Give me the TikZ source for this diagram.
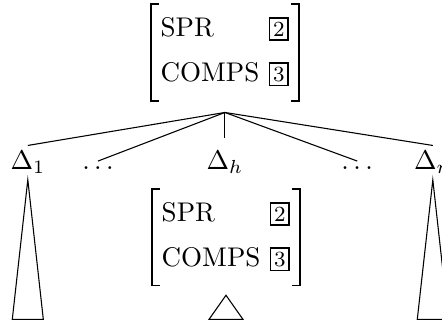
\documentclass[tikz,border=0pt]{standalone}
\usetikzlibrary{positioning}

\newcommand{\tagbox}[1]{{\setlength{\fboxsep}{1pt}\setlength{\fboxrule}{0.7pt}\fbox{\footnotesize #1}}}
\newcommand{\featmat}[2]{\begin{tabular}{@{}l@{\hspace{3.4pt}}l@{}}
	SPR & \tagbox{#1}\\[4.7pt]
	COMPS & \tagbox{#2}
\end{tabular}}
\newcommand{\avmbrackets}[1]{%
	\draw [line width=0.7pt] ([xshift=3.7pt,yshift=-4.4pt]#1.north west) -- ++(-2.7pt,0) |- ([xshift=3.7pt,yshift=4.4pt]#1.south west);
	\draw [line width=0.7pt] ([xshift=-3.7pt,yshift=-4.4pt]#1.north east) -- ++(2.7pt,0) |- ([xshift=-3.7pt,yshift=4.4pt]#1.south east);}

\begin{document}
\begin{tikzpicture}[avm/.style={inner xsep=4.3pt,inner ysep=7.7pt},
		level 1/.style={sibling distance=37pt,level distance=43.5pt},
		every child node/.style={anchor=base,inner sep=2pt},
		edge from parent path={(\tikzparentnode.south) -- (\tikzchildnode.north)}]
		\useasboundingbox (-83.3pt,19.4pt) rectangle (80.4pt,-99.4pt);
		\clip (-83.3pt,19.4pt) rectangle (80.4pt,-99.4pt);
		\coordinate (ground) at (0,-98.9pt);
		\node [avm] (top) {\featmat{2}{3}}
		child { node [xshift=1pt] (d1) {$\Delta_1$} }
		child { node [xshift=-10pt] (ldots) {$\ldots$} }
		child { node [inner ysep=4.8pt] (dh) {$\Delta_h$} }
		child { node [xshift=12pt] (rdots) {$\ldots$} }
		child { node [xshift=3pt] (dn) {$\Delta_n$} };
		\node [avm] (low) at (0.4pt,-68.5pt) {\featmat{2}{3}};
		\avmbrackets{top}
		\avmbrackets{low}
		% triangles
		\draw (d1.south) -- ([xshift=-5.75pt]d1.south |- ground) -- ([xshift=5.75pt]d1.south |- ground) -- cycle;
		\draw (dn.south) -- ([xshift=-5.75pt]dn.south |- ground) -- ([xshift=5.75pt]dn.south |- ground) -- cycle;
		\draw ([yshift=0.8pt]low.south) -- ([xshift=-6.3pt]low.south |- ground) -- ([xshift=6.3pt]low.south |- ground) -- cycle;
	\end{tikzpicture}
\end{document}
